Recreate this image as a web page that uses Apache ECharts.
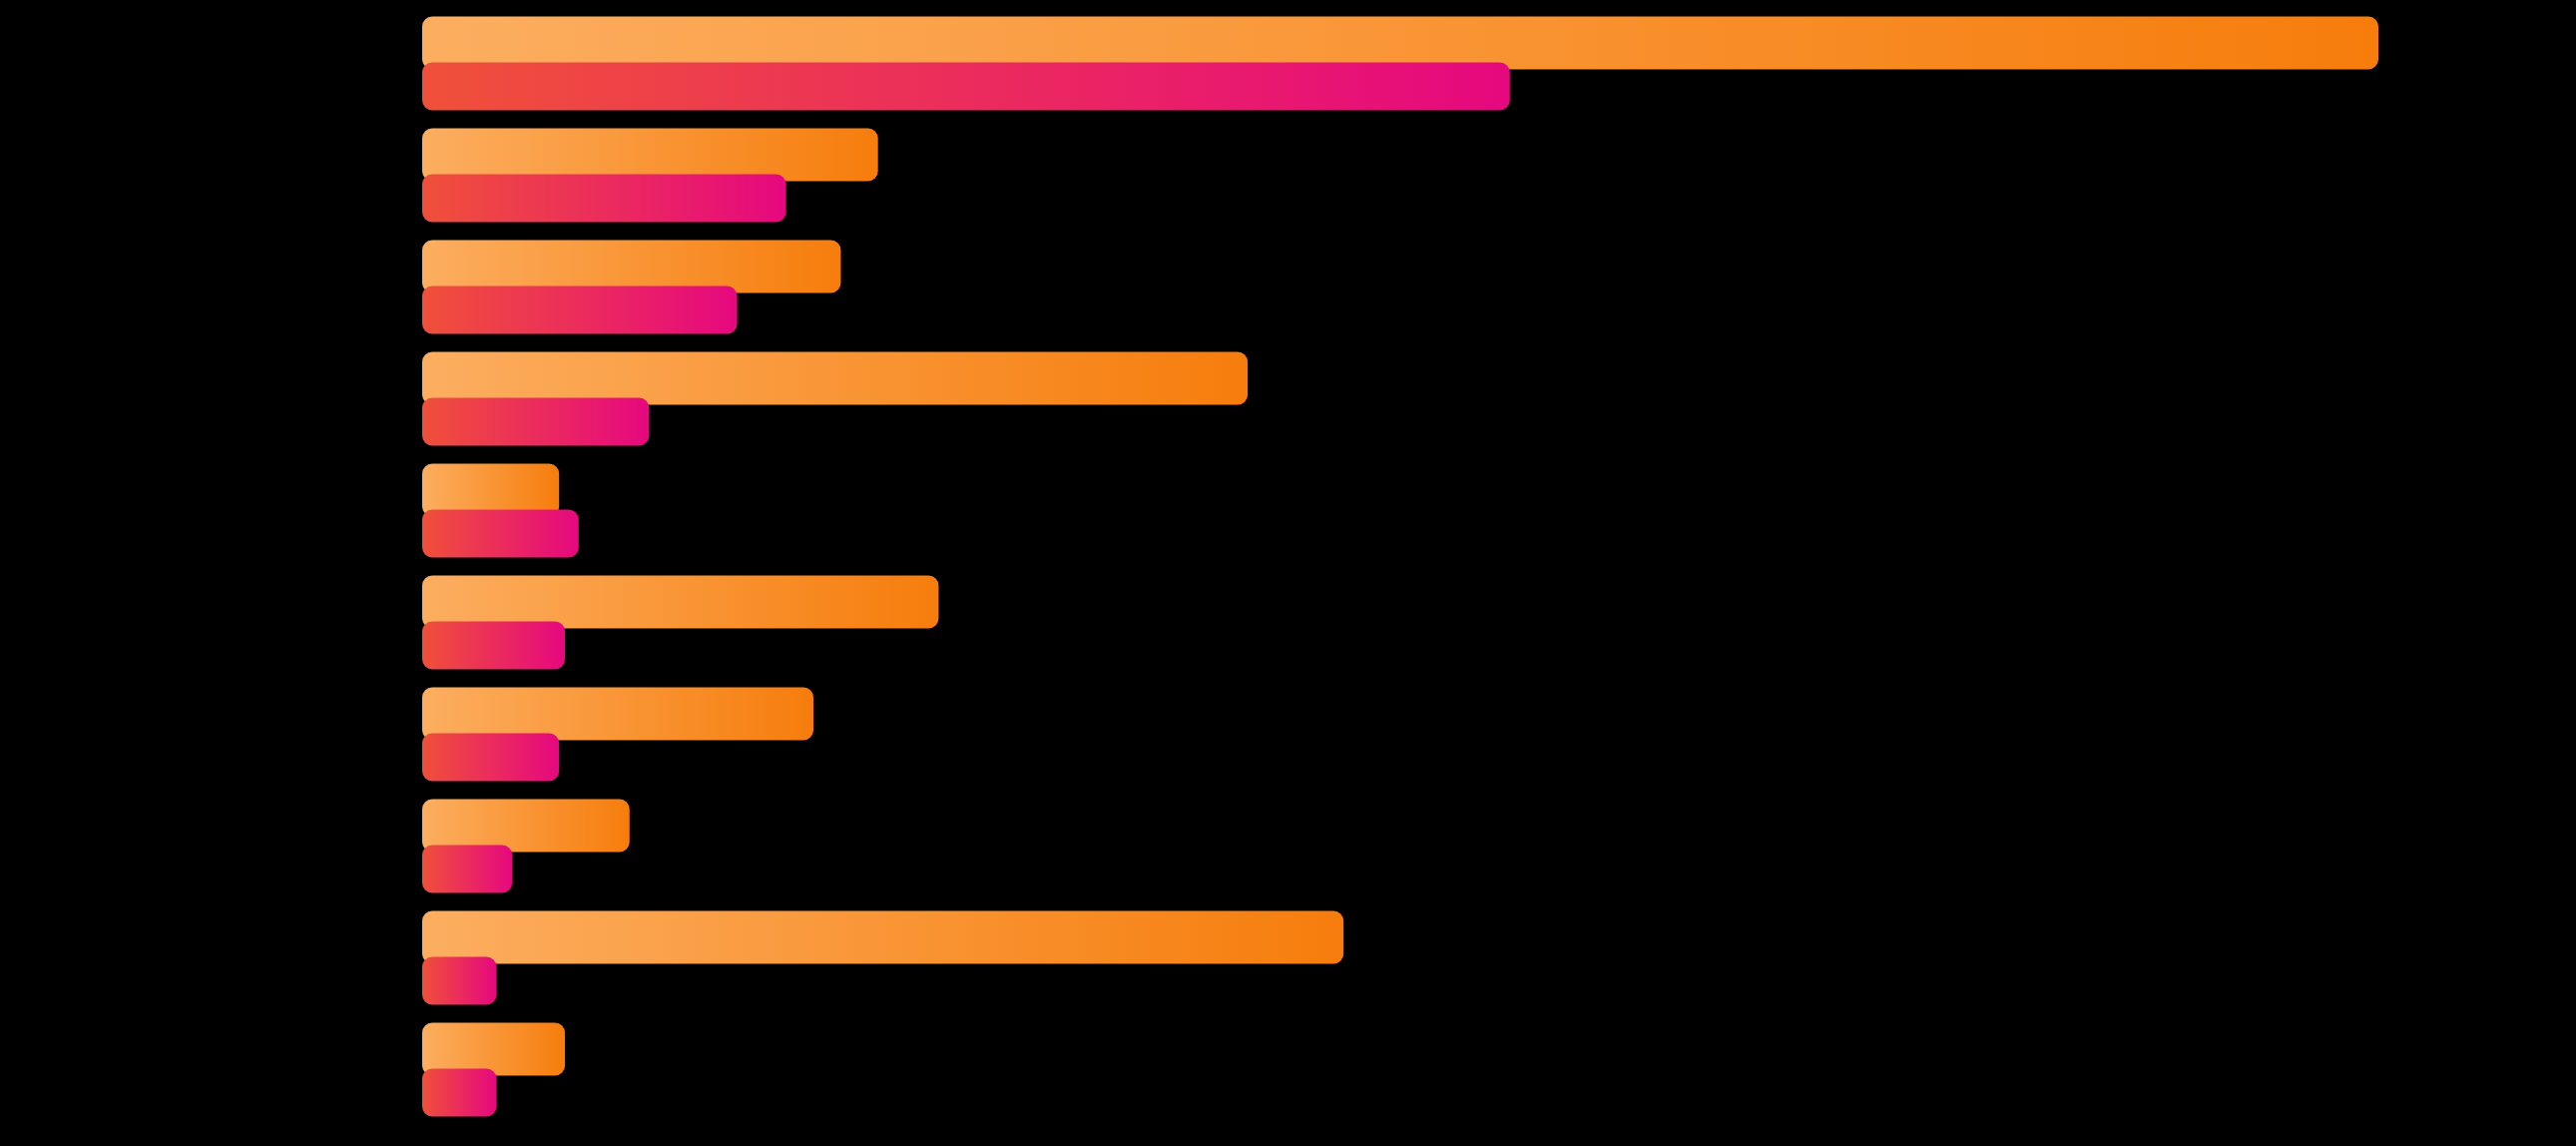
<!DOCTYPE html>
<html>
<head>
<meta charset="utf-8">
<style>
html,body{margin:0;padding:0;background:#000;}
#chart{width:2581px;height:1148px;}
</style>
<script src="https://cdn.jsdelivr.net/npm/echarts@6/dist/echarts.min.js"></script>
</head>
<body>
<div id="chart"></div>
<script>
var categories = ['A', 'B', 'C', 'D', 'E', 'F', 'G', 'H', 'I', 'J'];
var seriesOrange = [100, 23.3, 21.4, 42.2, 7.0, 26.4, 20.0, 10.6, 47.1, 7.3];
var seriesPink = [55.6, 18.6, 16.1, 11.6, 8.0, 7.3, 7.0, 4.6, 3.8, 3.8];

var chart = echarts.init(document.getElementById('chart'), null, {renderer: 'canvas'});
var orangeGrad = new echarts.graphic.LinearGradient(0, 0, 1, 0, [
  {offset: 0, color: '#FCAE60'},
  {offset: 1, color: '#F67D0C'}
]);
var pinkGrad = new echarts.graphic.LinearGradient(0, 0, 1, 0, [
  {offset: 0, color: '#F0503A'},
  {offset: 1, color: '#E6087F'}
]);
chart.setOption({
  backgroundColor: '#000000',
  animation: false,
  grid: {left: 423, right: 198, top: 7.5, bottom: 20.5, containLabel: false},
  xAxis: {
    type: 'value', min: 0, max: 100,
    axisLine: {show: false}, axisTick: {show: false},
    axisLabel: {show: false}, splitLine: {show: false}
  },
  yAxis: {
    type: 'category', data: categories, inverse: true,
    axisLine: {show: false}, axisTick: {show: false},
    axisLabel: {show: false}, splitLine: {show: false}
  },
  series: [
    {
      name: 'Orange', type: 'bar', data: seriesOrange,
      barWidth: 53, barGap: '-13.2%',
      itemStyle: {color: orangeGrad, borderRadius: 10}
    },
    {
      name: 'Pink', type: 'bar', data: seriesPink,
      barWidth: 48, barGap: '-13.2%',
      itemStyle: {color: pinkGrad, borderRadius: 10}
    }
  ]
});
</script>
</body>
</html>
